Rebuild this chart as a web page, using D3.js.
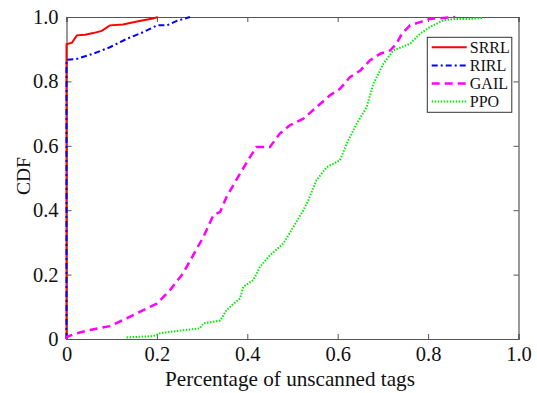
<!DOCTYPE html>
<html>
<head>
<meta charset="utf-8">
<script src="https://cdn.jsdelivr.net/npm/d3@7"></script>
<style>
  body { margin: 0; background: #fff; }
  svg text { font-family: "Liberation Serif", "Times New Roman", Times, "DejaVu Serif", serif; fill: #111; }
</style>
</head>
<body>
<div id="chart"></div>
<script>
// ------------------------------------------------------------------
// Data

const seriesNames = ['SRRL', 'RIRL', 'GAIL', 'PPO'];

const srrlX = [0, 0, 0.012, 0.023, 0.041, 0.059, 0.078, 0.096, 0.125, 0.148, 0.17, 0.191, 0.202];
const srrlY = [0, 0.915, 0.92, 0.943, 0.945, 0.95, 0.957, 0.974, 0.977, 0.984, 0.99, 0.995, 1.0];

const rirlX = [0, 0, 0.023, 0.059, 0.096, 0.133, 0.17, 0.2, 0.222, 0.244, 0.273];
const rirlY = [0, 0.867, 0.87, 0.886, 0.906, 0.932, 0.953, 0.974, 0.974, 0.988, 1.0];

const gailX = [0, 0.001, 0.023, 0.052, 0.096, 0.133, 0.17, 0.2, 0.229, 0.258, 0.28, 0.303, 0.325, 0.34, 0.354,
  0.384, 0.406, 0.42, 0.45, 0.472, 0.494, 0.524, 0.553, 0.583, 0.605, 0.627, 0.65, 0.671, 0.694, 0.716,
  0.73, 0.742, 0.76, 0.782, 0.804, 0.833, 0.86];
const gailY = [0, 0.007, 0.018, 0.028, 0.04, 0.064, 0.09, 0.11, 0.152, 0.204, 0.26, 0.317, 0.385, 0.395, 0.441,
  0.514, 0.565, 0.596, 0.596, 0.638, 0.664, 0.684, 0.72, 0.757, 0.777, 0.813, 0.834, 0.865, 0.886, 0.896,
  0.917, 0.948, 0.974, 0.984, 0.994, 0.997, 1.0];

const ppoX = [0.133, 0.192, 0.207, 0.251, 0.295, 0.303, 0.34, 0.354, 0.369, 0.384, 0.391, 0.413, 0.428, 0.45,
  0.48, 0.502, 0.524, 0.535, 0.553, 0.576, 0.605, 0.62, 0.642, 0.664, 0.679, 0.701, 0.723, 0.76, 0.782,
  0.804, 0.834, 0.863, 0.89, 0.922];
const ppoY = [0.005, 0.009, 0.018, 0.026, 0.033, 0.049, 0.057, 0.09, 0.109, 0.126, 0.162, 0.183, 0.224, 0.26,
  0.297, 0.348, 0.4, 0.431, 0.493, 0.534, 0.555, 0.607, 0.669, 0.72, 0.793, 0.855, 0.896, 0.917, 0.948,
  0.969, 0.99, 0.994, 0.994, 0.997];

const xTicks = [0, 0.2, 0.4, 0.6, 0.8, 1.0];
const yTicks = [0, 0.2, 0.4, 0.6, 0.8, 1.0];
const tickLabels = ['0', '0.2', '0.4', '0.6', '0.8', '1.0'];

// ------------------------------------------------------------------
// Chart

const width = 537;
const height = 393;
const margin = { top: 17, right: 18.5, bottom: 54, left: 66.5 };
const innerW = width - margin.left - margin.right;
const innerH = height - margin.top - margin.bottom;
const serif = '"Liberation Serif", "Times New Roman", Times, "DejaVu Serif", serif';

const svg = d3.select('#chart').append('svg')
  .attr('width', width)
  .attr('height', height)
  .attr('font-family', serif);

const g = svg.append('g')
  .attr('transform', `translate(${margin.left},${margin.top})`);

const x = d3.scaleLinear().domain([0, 1]).range([0, innerW]);
const y = d3.scaleLinear().domain([0, 1]).range([innerH, 0]);

const fmt = (d) => tickLabels[xTicks.indexOf(d)];
const axisColor = '#555';

// bottom / left axes with labels, ticks pointing inward
const xAxis = g.append('g')
  .attr('transform', `translate(0,${innerH})`)
  .call(d3.axisBottom(x).tickValues(xTicks).tickFormat(fmt).tickSize(-5).tickPadding(7));
const yAxis = g.append('g')
  .call(d3.axisLeft(y).tickValues(yTicks).tickFormat(fmt).tickSize(-5).tickPadding(8));
// top / right axes: ticks only
const xTop = g.append('g')
  .call(d3.axisTop(x).tickValues(xTicks).tickFormat('').tickSize(-5));
const yRight = g.append('g')
  .attr('transform', `translate(${innerW},0)`)
  .call(d3.axisRight(y).tickValues(yTicks).tickFormat('').tickSize(-5));

[xAxis, yAxis, xTop, yRight].forEach(a => {
  a.attr('font-family', serif).attr('font-size', 20.5);
  a.select('.domain').attr('stroke', axisColor).attr('stroke-width', 1.2);
  a.selectAll('.tick line').attr('stroke', axisColor);
  a.selectAll('.tick text').attr('fill', '#111');
});

// axis titles
const xTitle = svg.append('text')
  .attr('x', 290)
  .attr('y', 385.7)
  .attr('text-anchor', 'middle')
  .attr('font-size', 19)
  .text('Percentage of unscanned tags');
// fit the title to the width it has in the reference
const titleLen = xTitle.node().getComputedTextLength();
if (titleLen > 0) xTitle.attr('font-size', 19 * 250 / titleLen);

svg.append('text')
  .attr('transform', 'translate(30,176) rotate(-90)')
  .attr('text-anchor', 'middle')
  .attr('font-size', 19.5)
  .text('CDF');

// series
const series = [
  { name: seriesNames[0], xs: srrlX, ys: srrlY, color: '#ff0000', dash: null, w: 2 },
  { name: seriesNames[1], xs: rirlX, ys: rirlY, color: '#0000ff', dash: '6,3,2,3', w: 2 },
  { name: seriesNames[2], xs: gailX, ys: gailY, color: '#ff00ff', dash: '8,5', w: 2.5 },
  { name: seriesNames[3], xs: ppoX, ys: ppoY, color: '#00ee00', dash: '1.5,1.5', w: 2 }
];

const line = d3.line().x(d => x(d[0])).y(d => y(d[1]));

const plot = g.append('g');
series.forEach(s => {
  plot.append('path')
    .datum(s.xs.map((v, i) => [v, s.ys[i]]))
    .attr('d', line)
    .attr('fill', 'none')
    .attr('stroke', s.color)
    .attr('stroke-width', s.w)
    .attr('stroke-dasharray', s.dash);
});

// legend
const legend = g.append('g')
  .attr('transform', `translate(${427.3 - margin.left},${37.3 - margin.top})`);
legend.append('rect')
  .attr('width', 84.5)
  .attr('height', 75)
  .attr('fill', '#fff')
  .attr('stroke', '#333')
  .attr('stroke-width', 1);

series.forEach((s, i) => {
  const ly = 10 + i * 18.1;
  legend.append('line')
    .attr('x1', 4.4).attr('x2', 39.4)
    .attr('y1', ly).attr('y2', ly)
    .attr('stroke', s.color)
    .attr('stroke-width', s.w)
    .attr('stroke-dasharray', s.dash);
  legend.append('text')
    .attr('x', 42.5)
    .attr('y', ly + 5.5)
    .attr('font-size', 16)
    .text(s.name);
});
</script>
</body>
</html>
